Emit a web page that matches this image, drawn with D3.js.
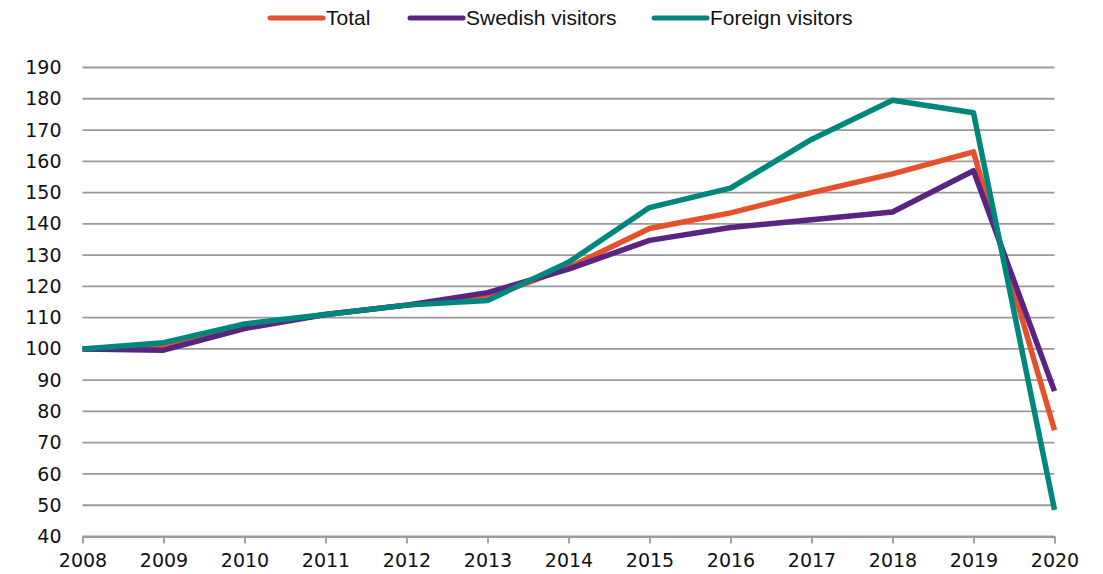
<!DOCTYPE html>
<html>
<head>
<meta charset="utf-8">
<script src="https://cdn.jsdelivr.net/npm/d3@7"></script>
<style>
  body { margin: 0; background: #fff; }
  svg { display: block; }
</style>
</head>
<body>
<svg id="chart" width="1103" height="574"></svg>
<script>
var years = [2008, 2009, 2010, 2011, 2012, 2013, 2014, 2015, 2016, 2017, 2018, 2019, 2020];
var total = [100, 101, 107, 111, 114, 116.5, 126, 138.5, 143.5, 150, 156, 163, 74];
var swedish = [100, 99.6, 106.5, 111, 114, 118, 125.5, 134.7, 138.8, 141.3, 143.8, 157, 86.5];
var foreign = [100, 102, 108, 111, 114, 115.5, 127.7, 145.2, 151.4, 167, 179.5, 175.5, 48.5];
var yTicks = [40, 50, 60, 70, 80, 90, 100, 110, 120, 130, 140, 150, 160, 170, 180, 190];

var seriesNames = ['Total', 'Swedish visitors', 'Foreign visitors'];
var seriesColors = ['#e4512d', '#5c2482', '#00877d'];
var seriesData = [total, swedish, foreign];

var svg = d3.select('#chart');

var x = d3.scaleLinear().domain([2008, 2020]).range([82.5, 1054.5]);
var y = d3.scaleLinear().domain([40, 190]).range([536.5, 67.5]);

// gridlines
svg.append('g')
  .selectAll('line')
  .data(yTicks)
  .join('line')
  .attr('x1', x(2008))
  .attr('x2', x(2020))
  .attr('y1', function (d) { return y(d) })
  .attr('y2', function (d) { return y(d) })
  .attr('stroke', '#9a9a9a')
  .attr('stroke-width', 1.8);

// y axis labels
svg.append('g')
  .attr('transform', 'translate(' + x(2008) + ',0)')
  .call(d3.axisLeft(y).tickValues(yTicks).tickSize(0).tickPadding(21))
  .call(function (g) { g.select('.domain').remove() })
  .call(function (g) {
    g.selectAll('text')
      .attr('font-family', 'DejaVu Sans')
      .attr('font-size', '19px')
      .attr('fill', '#111')
  });

// x axis
svg.append('g')
  .attr('transform', 'translate(0,' + y(40) + ')')
  .call(d3.axisBottom(x).tickValues(years).tickFormat(d3.format('d')).tickSize(7).tickPadding(10).tickSizeOuter(0))
  .call(function (g) {
    g.select('.domain').attr('stroke', '#9a9a9a').attr('stroke-width', 1.8);
    g.selectAll('.tick line').attr('stroke', '#9a9a9a').attr('stroke-width', 1.8);
    g.selectAll('text')
      .attr('font-family', 'DejaVu Sans')
      .attr('font-size', '19px')
      .attr('fill', '#111')
  });

// lines
var line = d3.line()
  .x(function (d, i) { return x(years[i]) })
  .y(function (d) { return y(d) });

svg.append('g')
  .selectAll('path')
  .data(seriesData)
  .join('path')
  .attr('fill', 'none')
  .attr('stroke', function (d, i) { return seriesColors[i] })
  .attr('stroke-width', 5.5)
  .attr('stroke-linejoin', 'round')
  .attr('d', line);

// legend
var legendX = [268, 408, 652];
var legend = svg.append('g')
  .selectAll('g')
  .data(seriesNames)
  .join('g')
  .attr('transform', function (d, i) { return 'translate(' + legendX[i] + ',18)' });

legend.append('line')
  .attr('x1', 2).attr('x2', 55)
  .attr('stroke', function (d, i) { return seriesColors[i] })
  .attr('stroke-width', 5)
  .attr('stroke-linecap', 'round');

legend.append('text')
  .attr('x', 58)
  .attr('dy', '0.35em')
  .attr('font-family', 'Liberation Sans')
  .attr('font-size', '21px')
  .attr('fill', '#111')
  .text(function (d) { return d });
</script>
</body>
</html>
